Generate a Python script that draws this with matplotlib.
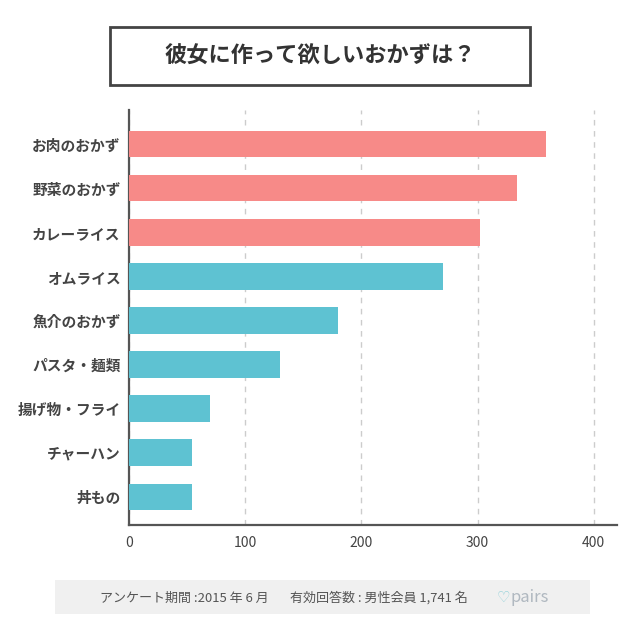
import matplotlib.pyplot as plt
from matplotlib.patches import Rectangle

plt.rcParams['font.family'] = ['Noto Sans CJK JP', 'DejaVu Sans']

# data
categories = ['お肉のおかず', '野菜のおかず', 'カレーライス', 'オムライス', '魚介のおかず',
              'パスタ・麺類', '揚げ物・フライ', 'チャーハン', '丼もの']
values = [359, 334, 302, 270, 180, 130, 70, 54, 54]
top_n = 3
xticks = [0, 100, 200, 300, 400]

pink = '#f78a88'
teal = '#5ec2d2'
text_col = '#444444'

fig = plt.figure(figsize=(6.4, 6.44), dpi=100)
ax = fig.add_axes([0.2016, 0.1848, 0.7624, 0.644])

colors = [pink if i < top_n else teal for i in range(len(values))]
ax.barh(range(len(values)), values, height=0.6, color=colors, zorder=3)

ax.set_ylim(len(values) - 1 + 0.64, -0.77)
ax.set_xlim(0, 420)
ax.set_xticks(xticks)
ax.set_yticks(range(len(values)))
ax.set_yticklabels(categories, fontsize=10.6, fontweight='bold', color=text_col)
ax.tick_params(axis='x', labelsize=10, colors=text_col, length=0, pad=8)
ax.tick_params(axis='y', length=0, pad=6)
for lab in ax.get_xticklabels():
    lab.set_color(text_col)

ax.grid(axis='x', linestyle=(0, (4, 4)), color='#cccccc', linewidth=1, zorder=0)
ax.spines['top'].set_visible(False)
ax.spines['right'].set_visible(False)
ax.spines['left'].set_color('#555555')
ax.spines['bottom'].set_color('#555555')
ax.spines['left'].set_linewidth(1.6)
ax.spines['bottom'].set_linewidth(1.6)

# title box
fig.patches.append(Rectangle((110 / 640, 1 - 85 / 644), 420 / 640, 58 / 644,
                             transform=fig.transFigure, fill=False,
                             edgecolor='#444444', linewidth=2))
fig.text(320 / 640, 1 - 56 / 644, '彼女に作って欲しいおかずは？', ha='center', va='center',
         fontsize=16, fontweight='bold', color='#333333')

# footer
fig.patches.append(Rectangle((55 / 640, 1 - 614 / 644), 535 / 640, 34 / 644,
                             transform=fig.transFigure, facecolor='#f0f0f0',
                             edgecolor='none'))
fig.text(100 / 640, 1 - 598 / 644, 'アンケート期間 :2015 年 6 月', ha='left', va='center',
         fontsize=9.4, color='#555555')
fig.text(290 / 640, 1 - 598 / 644, '有効回答数 : 男性会員 1,741 名', ha='left', va='center',
         fontsize=9.4, color='#555555')
fig.text(497 / 640, 1 - 597 / 644, '♡', ha='left', va='center', fontsize=11,
         color='#8fd0d8', family=['DejaVu Sans'])
fig.text(511 / 640, 1 - 598 / 644, 'pairs', ha='left', va='center', fontsize=12,
         color='#b0b8c0')

fig.savefig('out.png', dpi=100)
